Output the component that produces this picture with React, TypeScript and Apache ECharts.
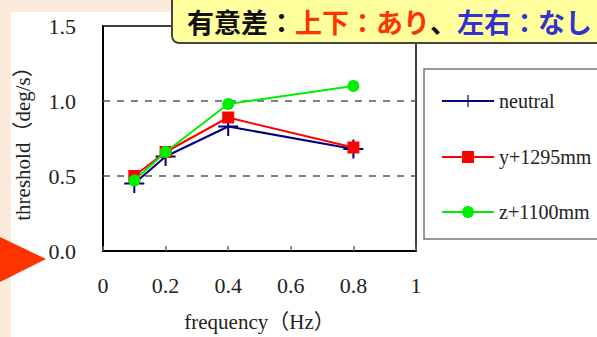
import React, { useEffect, useRef } from "react";
import * as echarts from "echarts";

const frequencies = [0.1, 0.2, 0.4, 0.8];
const neutralValues = [0.45, 0.63, 0.83, 0.68];
const yShiftValues = [0.5, 0.66, 0.89, 0.69];
const zShiftValues = [0.47, 0.66, 0.98, 1.1];
const seriesNames = ["neutral", "y+1295mm", "z+1100mm"];
const referenceLines = [0.5, 1.0];
const xName = "frequency（Hz）";
const yName = "threshold（deg/s）";
const calloutText = "{k|有意差：}{r|上下：あり}{k|、}{b|左右：なし}";

const SERIF = "'Liberation Serif', 'Noto Sans CJK JP', serif";
const PLUS = "path://M0,9H20V11H0Z M9,0H11V20H9Z";

function pairs(vals: number[]) {
  return frequencies.map((f, i) => [f, vals[i]]);
}

export default function App() {
  const ref = useRef<HTMLDivElement>(null);
  useEffect(() => {
    if (!ref.current) return;
    const chart = echarts.init(ref.current, undefined, { renderer: "svg" });
    const legendBase = {
      itemWidth: 52,
      itemHeight: 15,
      padding: 0,
      selectedMode: false,
      left: 441,
      textStyle: { fontFamily: SERIF, fontSize: 20, color: "#222" },
    };
    chart.setOption({
      animation: false,
      backgroundColor: "#FCEADB",
      grid: {
        left: 103,
        right: 181,
        top: 26,
        bottom: 85,
        show: true,
        borderColor: "#000",
        borderWidth: 1.5,
        backgroundColor: "transparent",
      },
      xAxis: {
        type: "value",
        min: 0,
        max: 1,
        interval: 0.2,
        name: xName,
        nameLocation: "middle",
        nameGap: 60,
        nameTextStyle: { fontFamily: SERIF, fontSize: 21, color: "#222" },
        axisLine: { lineStyle: { color: "#000", width: 2 } },
        axisTick: { inside: true, length: 5, lineStyle: { color: "#666", width: 1.5 } },
        splitLine: { show: false },
        axisLabel: { fontFamily: SERIF, fontSize: 22, color: "#222", margin: 23 },
      },
      yAxis: {
        type: "value",
        min: 0,
        max: 1.5,
        interval: 0.5,
        name: yName,
        nameLocation: "middle",
        nameGap: 70,
        nameTextStyle: { fontFamily: SERIF, fontSize: 21, color: "#222" },
        axisLine: { show: true, lineStyle: { color: "#000", width: 2 } },
        axisTick: { show: false },
        splitLine: { show: false },
        axisLabel: {
          fontFamily: SERIF,
          fontSize: 22,
          color: "#222",
          margin: 27,
          formatter: (v: number) => v.toFixed(1),
        },
      },
      legend: [
        { ...legendBase, data: [seriesNames[0]], top: 91 },
        { ...legendBase, data: [seriesNames[1]], top: 147 },
        { ...legendBase, data: [seriesNames[2]], top: 202 },
      ],
      graphic: [
        {
          type: "rect",
          z: -1,
          shape: { x: 11, y: 12, width: 600, height: 340 },
          style: { fill: "#fff" },
        },
        {
          type: "rect",
          z: 1,
          shape: { x: 424, y: 69, width: 180, height: 170 },
          style: { fill: "#fff", stroke: "#777", lineWidth: 1.5 },
        },
        {
          type: "polygon",
          z: 100,
          shape: { points: [[-2, 236], [46, 259], [-2, 283]] },
          style: { fill: "#FF3300" },
        },
        {
          type: "rect",
          z: 100,
          shape: { x: 172, y: -8, width: 440, height: 51, r: 7 },
          style: { fill: "#FFFF9E", stroke: "#444", lineWidth: 2 },
        },
        {
          type: "text",
          z: 101,
          x: 187,
          y: 21,
          style: {
            text: calloutText,
            fontFamily: "'Noto Sans CJK JP', sans-serif",
            fontSize: 27,
            fontWeight: "bold",
            verticalAlign: "middle",
            rich: {
              k: { fill: "#111", fontSize: 27, fontWeight: "bold", fontFamily: "'Noto Sans CJK JP', sans-serif" },
              r: { fill: "#FF3300", fontSize: 27, fontWeight: "bold", fontFamily: "'Noto Sans CJK JP', sans-serif" },
              b: { fill: "#3333CC", fontSize: 27, fontWeight: "bold", fontFamily: "'Noto Sans CJK JP', sans-serif" },
            },
          },
        },
      ],
      series: [
        {
          name: seriesNames[0],
          type: "line",
          data: pairs(neutralValues),
          symbol: PLUS,
          symbolSize: [20, 19],
          itemStyle: { color: "#00007F" },
          lineStyle: { color: "#00007F", width: 2 },
          z: 3,
          markLine: {
            silent: true,
            symbol: ["none", "none"],
            label: { show: false },
            lineStyle: { color: "#555", type: [7, 7], width: 1.5 },
            data: referenceLines.map((v) => ({ yAxis: v })),
          },
        },
        {
          name: seriesNames[1],
          type: "line",
          data: pairs(yShiftValues),
          symbol: "rect",
          symbolSize: 12,
          itemStyle: { color: "#FF0000" },
          lineStyle: { color: "#FF0000", width: 2 },
          z: 4,
        },
        {
          name: seriesNames[2],
          type: "line",
          data: pairs(zShiftValues),
          symbol: "circle",
          symbolSize: 12,
          itemStyle: { color: "#00EE00" },
          lineStyle: { color: "#00EE00", width: 2 },
          z: 5,
        },
      ],
    });
    return () => chart.dispose();
  }, []);
  return (
    <div
      ref={ref}
      style={{ position: "fixed", left: 0, top: 0, width: 597, height: 337 }}
    />
  );
}
